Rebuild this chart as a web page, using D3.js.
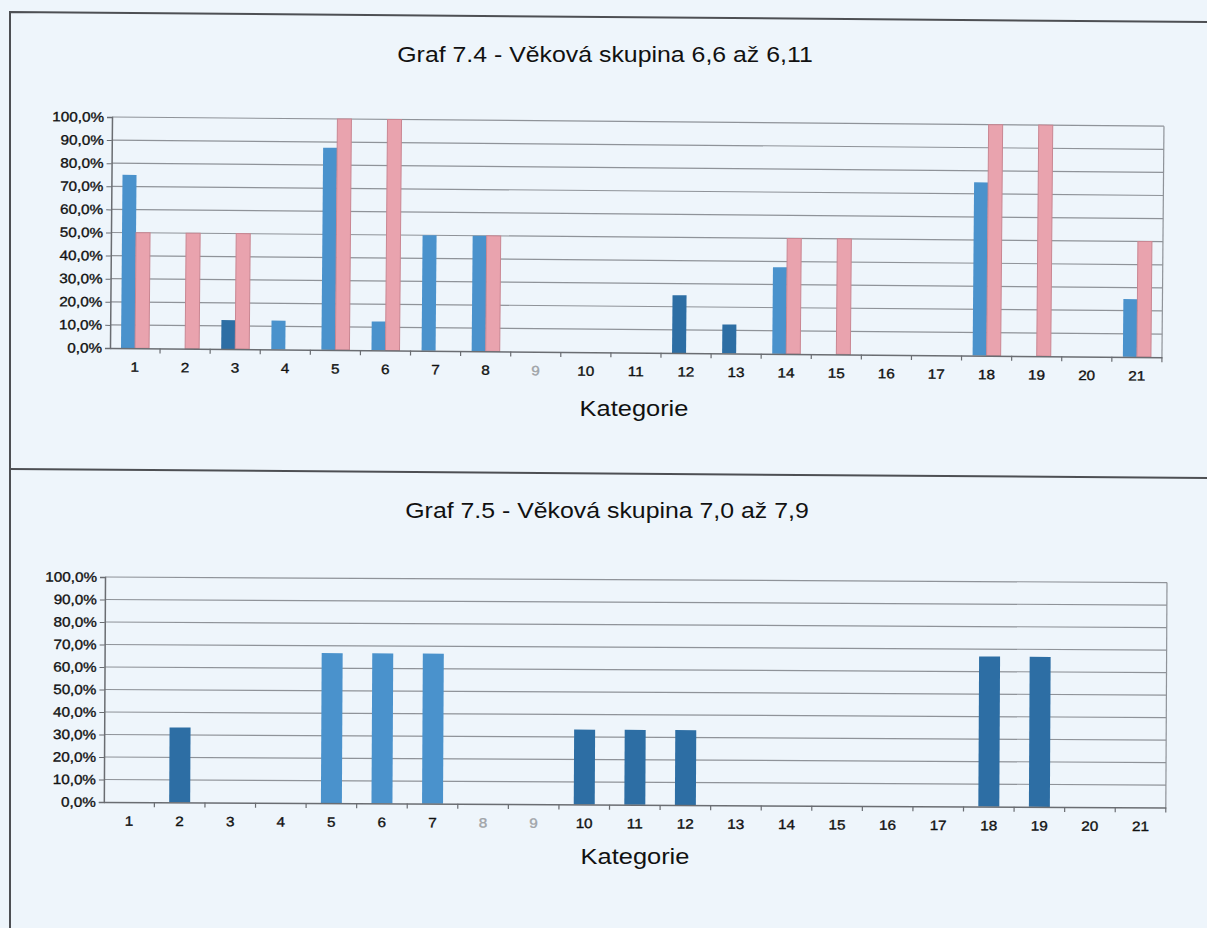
<!DOCTYPE html>
<html>
<head>
<meta charset="utf-8">
<script src="https://cdn.jsdelivr.net/npm/d3@7"></script>
<style>
  html, body { margin: 0; padding: 0; background: #eef5fb; }
  svg { display: block; }
  text { font-family: "Liberation Sans", Arial, sans-serif; }
</style>
</head>
<body>
<svg id="chart" width="1207" height="928"></svg>
<script>
// ---- data ----
const categories = ["1","2","3","4","5","6","7","8","9","10","11","12","13","14","15","16","17","18","19","20","21"];
const yTicks = [0, 10, 20, 30, 40, 50, 60, 70, 80, 90, 100];

const title74 = "Graf 7.4 - Věková skupina 6,6 až 6,11";
const blue74 = [75, 0, 12.5, 12.5, 87.5, 12.5, 50, 50, 0, 0, 0, 25, 12.5, 37.5, 0, 0, 0, 75, 0, 0, 25];
const pink74 = [50, 50, 50, 0, 100, 100, 0, 50, 0, 0, 0, 0, 0, 50, 50, 0, 0, 100, 100, 0, 50];

const title75 = "Graf 7.5 - Věková skupina 7,0 až 7,9";
const blue75 = [0, 33.3, 0, 0, 66.7, 66.7, 66.7, 0, 0, 33.3, 33.3, 33.3, 0, 0, 0, 0, 0, 66.7, 66.7, 0, 0];

const axisTitle = "Kategorie";

// scan shading (style only)
const darkBars74 = ["3", "12", "13"];
const darkBars75 = ["2", "10", "11", "12", "18", "19"];
const fadedLabels74 = ["9"];
const fadedLabels75 = ["8", "9"];

// ---- styling ----
const C = {
  blue: "#4a92cc",
  blueDark: "#2d6ea4",
  pink: "#e9a3ae",
  pinkEdge: "#c98692",
  grid: "#8f9399",
  axis: "#6a6d72",
  frame: "#4d4f53",
  text: "#111",
  faded: "#a0a4a8"
};
const SX = 1.13; // horizontal stretch of the scan

const svg = d3.select("#chart");

// page frame lines
svg.append("path")
  .attr("d", d3.line()([[10, 928], [10, 12], [1207, 22]]))
  .attr("fill", "none").attr("stroke", C.frame).attr("stroke-width", 2);
svg.append("path")
  .attr("d", d3.line()([[10, 469], [1207, 478]]))
  .attr("fill", "none").attr("stroke", C.frame).attr("stroke-width", 2);

function stretchedText(sel, x, y, size, str) {
  return sel.append("text")
    .attr("transform", `translate(${x},${y}) scale(${SX},1)`)
    .attr("text-anchor", "middle")
    .attr("font-size", size)
    .style("fill", C.text)
    .text(str);
}

function drawChart(cfg) {
  const { left, right, top, bottom, angle, series, padding, dark, faded } = cfg;
  const g = svg.append("g").attr("transform", `rotate(${angle},${left},${top})`);

  const x = d3.scaleBand().domain(categories).range([left, right])
    .paddingInner(padding).paddingOuter(padding / 2);
  const y = d3.scaleLinear().domain([0, 100]).range([bottom, top]);
  const xs = d3.scaleBand().domain(series.map(s => s.key)).range([0, x.bandwidth()]);

  // gridlines
  g.append("g").selectAll("line").data(yTicks.filter(t => t > 0)).join("line")
    .attr("x1", left).attr("x2", right)
    .attr("y1", d => y(d)).attr("y2", d => y(d))
    .attr("stroke", C.grid).attr("stroke-width", 1.2);
  // right border
  g.append("line").attr("x1", right).attr("x2", right).attr("y1", top).attr("y2", bottom)
    .attr("stroke", C.grid).attr("stroke-width", 1.2);

  // bars
  series.forEach(s => {
    g.append("g").selectAll("rect").data(categories.map((c, i) => ({ c, v: s.values[i] })).filter(d => d.v > 0))
      .join("rect")
      .attr("x", d => x(d.c) + xs(s.key))
      .attr("y", d => y(d.v))
      .attr("width", xs.bandwidth())
      .attr("height", d => y(0) - y(d.v))
      .attr("fill", d => s.key === "blue" ? (dark.includes(d.c) ? C.blueDark : s.color) : s.color)
      .attr("stroke", s.edge || "none")
      .attr("stroke-width", s.edge ? 1 : 0);
  });

  // y axis
  const fmt = v => d3.format(".1f")(v).replace(".", ",") + "%";
  const ya = g.append("g").attr("transform", `translate(${left},0)`)
    .call(d3.axisLeft(y).tickValues(yTicks).tickFormat(fmt).tickSize(5).tickPadding(3));
  ya.select(".domain").attr("stroke", C.axis).attr("stroke-width", 1.5);
  ya.selectAll(".tick line").attr("stroke", C.axis);
  ya.selectAll(".tick text")
    .attr("font-size", 13.5)
    .attr("font-family", "Liberation Sans, Arial, sans-serif")
    .style("fill", C.text)
    .style("stroke", C.text)
    .style("stroke-width", 0.35)
    .attr("transform", `scale(${SX},1)`)
    .attr("x", -8 / SX);

  // x axis
  const xa = g.append("g").attr("transform", `translate(0,${bottom})`)
    .call(d3.axisBottom(x).tickSize(0).tickPadding(14));
  xa.select(".domain").attr("stroke", C.axis).attr("stroke-width", 1.5);
  xa.selectAll(".tick text")
    .attr("font-size", 13.5)
    .attr("font-family", "Liberation Sans, Arial, sans-serif")
    .style("fill", d => faded.includes(d) ? C.faded : C.text)
    .style("stroke", d => faded.includes(d) ? C.faded : C.text)
    .style("stroke-width", 0.35)
    .attr("transform", `scale(${SX},1)`);
  // category separator ticks
  g.append("g").selectAll("line").data(categories.slice(1).concat(["end"])).join("line")
    .attr("x1", d => d === "end" ? right : x(d) - x.step() * x.paddingInner() / 2)
    .attr("x2", d => d === "end" ? right : x(d) - x.step() * x.paddingInner() / 2)
    .attr("y1", bottom).attr("y2", bottom + 5)
    .attr("stroke", C.axis).attr("stroke-width", 1.2);

  // titles (outside rotation)
  stretchedText(svg, cfg.titleX, cfg.titleY, 22, cfg.title);
  stretchedText(svg, cfg.axisTitleX, cfg.axisTitleY, 22.5, axisTitle);
}

drawChart({
  left: 112, right: 1164, top: 117, bottom: 348, angle: 0.5,
  padding: 0.44,
  series: [
    { key: "blue", values: blue74, color: C.blue },
    { key: "pink", values: pink74, color: C.pink, edge: C.pinkEdge }
  ],
  dark: darkBars74, faded: fadedLabels74,
  title: title74, titleX: 605, titleY: 62,
  axisTitleX: 634, axisTitleY: 416
});

drawChart({
  left: 105, right: 1167, top: 577, bottom: 802, angle: 0.3,
  padding: 0.585,
  series: [
    { key: "blue", values: blue75, color: C.blue }
  ],
  dark: darkBars75, faded: fadedLabels75,
  title: title75, titleX: 607, titleY: 518,
  axisTitleX: 635, axisTitleY: 864
});
</script>
</body>
</html>
